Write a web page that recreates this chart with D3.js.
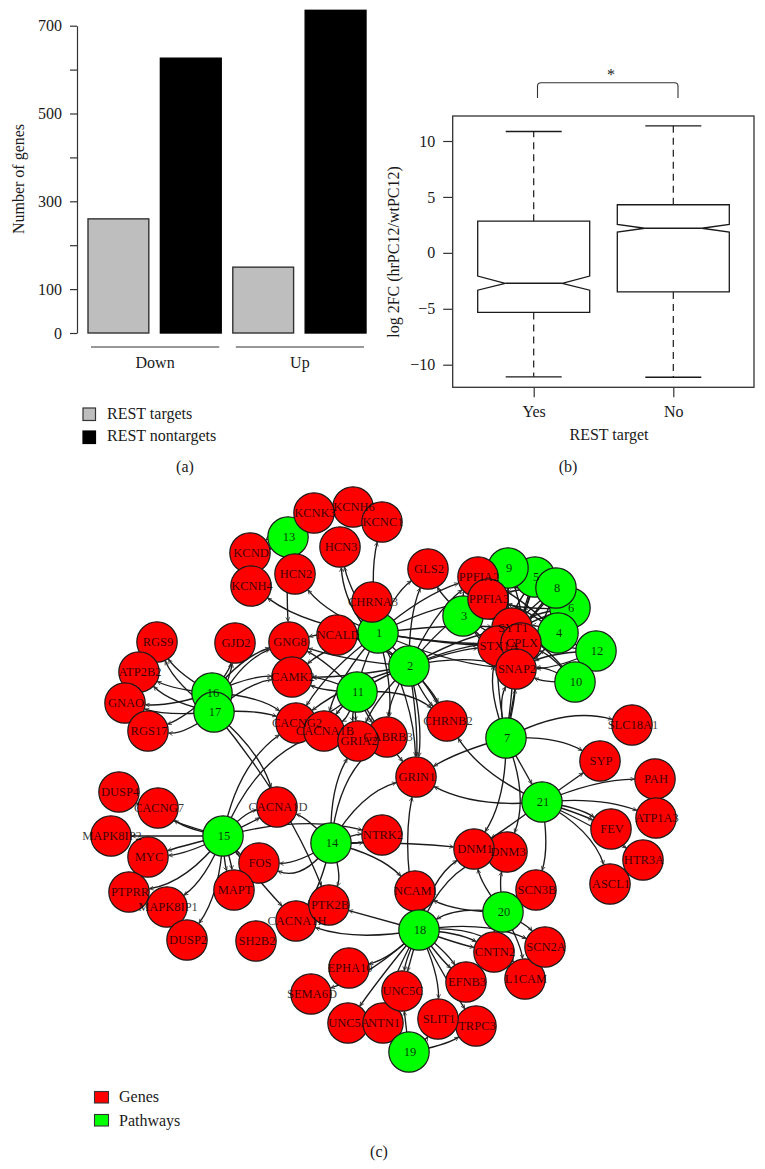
<!DOCTYPE html>
<html>
<head>
<meta charset="utf-8">
<style>
  body { margin: 0; background: #fff; }
  svg { display: block; }
  text { font-family: "Liberation Serif", serif; fill: #1a1a1a; }
</style>
</head>
<body>
<svg width="765" height="1169"></svg>
<script src="https://d3js.org/d3.v7.min.js"></script>
<script>
// panel (a)
var barCats = ["Down targets", "Down nontargets", "Up targets", "Up nontargets"];
var barVals = [260, 626, 150, 735];
var barFill = ["#bebebe", "#000", "#bebebe", "#000"];
var barTicks = [0, 100, 200, 300, 400, 500, 600, 700];
var barLabelled = [0, 100, 300, 500, 700];

// panel (b)
var boxCats = ["Yes", "No"];
var boxQ1 = [-5.33, -3.49];
var boxQ3 = [2.83, 4.3];
var boxMed = [-2.72, 2.2];
var boxNotchLo = [-3.34, 1.85];
var boxNotchHi = [-2.08, 2.54];
var boxWhiskLo = [-11.08, -11.12];
var boxWhiskHi = [10.85, 11.36];
var boxTicks = [-10, -5, 0, 5, 10];

// panel (c), draw order matters since the circles overlap
var nodeNames = ["13", "KCND", "KCNH4", "HCN2", "KCNH6", "KCNC1", "KCNK3", "HCN3", "1", "CHRNA3", "NCALD",
  "GNG8", "GJD2", "RGS9", "ATP2B2", "GNAO", "RGS17", "16", "17", "CAMK2", "11", "CACNG2", "CACNA1B", "GABRB3", "GRIA2",
  "2", "GLS2", "5", "6", "8", "9", "PPFIA2", "3", "PPFIA3", "4", "SYT1", "STX1A", "CPLX", "SNAP2", "12", "10",
  "CHRNB2", "7", "SLC18A1", "SYP", "GRIN1", "21", "PAH", "ATP1A3", "HTR3A", "FEV", "ASCL1",
  "DUSP4", "CACNG7", "MAPK8IP2", "MYC", "15", "CACNA1D", "14", "FOS", "MAPT", "PTPRR", "MAPK8IP1", "DUSP2",
  "CACNA1H", "PTK2B", "SH2B2", "NTRK2", "DNM3", "DNM1", "SCN3B", "NCAM1", "20", "18", "L1CAM", "SCN2A", "CNTN2", "EFNB3",
  "SEMA6D", "EPHA10", "UNC5A", "NTN1", "UNC5C", "TRPC3", "SLIT1", "19"];
var nodeX = [288, 250, 251, 295, 353, 382, 314, 340, 378, 372, 337,
  289, 235, 157, 139, 125, 148, 212, 214, 292, 357, 296, 324, 387, 358,
  409, 428, 535, 570, 556, 508, 478, 463, 488, 558, 512, 498, 521, 516, 596, 575,
  447, 506, 632, 600, 416, 542, 655, 656, 643, 611, 610,
  119, 158, 111, 148, 223, 277, 331, 259, 234, 129, 167, 187,
  296, 329, 256, 382, 507, 474, 536, 415, 503, 419, 525, 545, 494, 466,
  311, 349, 348, 383, 402, 476, 438, 409];
var nodeY = [537, 553, 586, 574, 507, 522, 513, 547, 633, 602, 635,
  642, 643, 642, 672, 703, 731, 693, 712, 677, 692, 723, 731, 737, 741,
  666, 569, 577, 608, 588, 568, 577, 616, 599, 633, 628, 646, 643, 669, 651, 682,
  721, 738, 725, 761, 777, 802, 779, 818, 860, 829, 884,
  792, 808, 836, 857, 836, 807, 843, 863, 890, 892, 907, 940,
  921, 905, 941, 835, 852, 849, 890, 891, 912, 930, 979, 947, 952, 982,
  994, 968, 1023, 1023, 991, 1026, 1019, 1052];

// pathway -> gene, third value is how far the curve bows
var edges = [
  ["13", "KCND", .15], ["13", "KCNH4", .2], ["13", "KCNK3", 0], ["13", "HCN2", 0], ["13", "GNG8", .02],
  ["1", "KCNC1", -.1], ["1", "HCN3", -.1], ["2", "HCN3", -.25], ["1", "HCN2", -.14], ["1", "KCNH4", -.14],
  ["1", "CHRNA3", 0], ["1", "NCALD", 0], ["1", "GNG8", .08], ["1", "GLS2", -.15],
  ["1", "PPFIA2", -.1], ["1", "PPFIA3", -.08], ["1", "SYT1", -.05], ["1", "STX1A", .03], ["1", "CPLX", .05], ["1", "SNAP2", .08],
  ["1", "CAMK2", .12], ["1", "CACNG2", .1], ["1", "CACNA1B", .12], ["1", "GRIA2", .15], ["1", "GABRB3", -.1], ["1", "GRIN1", -.12], ["1", "CHRNB2", -.08],
  ["2", "GLS2", -.1], ["2", "PPFIA2", -.12], ["2", "PPFIA3", -.1], ["2", "SYT1", -.08], ["2", "STX1A", -.06], ["2", "CPLX", -.1], ["2", "SNAP2", -.12],
  ["2", "NCALD", .1], ["2", "GNG8", -.06], ["2", "CAMK2", -.05], ["2", "CACNG2", .1], ["2", "CACNA1B", .15], ["2", "GRIA2", .1], ["2", "GABRB3", .12],
  ["2", "GRIN1", -.1], ["2", "GRIN1", -.05], ["2", "CHRNB2", .08], ["2", "CHRNB2", -.08],
  ["3", "GLS2", -.08], ["3", "PPFIA2", -.2], ["3", "PPFIA3", .2], ["3", "SYT1", -.1], ["3", "STX1A", .1], ["3", "CPLX", .08], ["3", "SNAP2", .1],
  ["11", "GNG8", .08], ["11", "CAMK2", .1], ["11", "CAMK2", -.1], ["11", "CACNG2", -.12], ["11", "CACNA1B", -.2], ["11", "GRIA2", .12], ["11", "GABRB3", .1], ["11", "GRIN1", .05], ["11", "CHRNB2", -.2],
  ["4", "PPFIA2", .08], ["4", "PPFIA3", .1], ["4", "SYT1", .12], ["4", "STX1A", .08], ["4", "CPLX", .1], ["4", "SNAP2", -.1],
  ["5", "PPFIA2", .1], ["5", "PPFIA3", .15], ["5", "SYT1", -.1], ["5", "STX1A", .05], ["5", "CPLX", .08], ["5", "SNAP2", .05],
  ["6", "PPFIA3", -.08], ["6", "SYT1", .1], ["6", "STX1A", .1], ["6", "CPLX", -.1], ["6", "SNAP2", .1],
  ["8", "PPFIA3", .08], ["8", "PPFIA2", -.1], ["8", "SYT1", -.1], ["8", "CPLX", .1], ["8", "STX1A", .06], ["8", "SNAP2", -.06],
  ["9", "PPFIA3", .12], ["9", "SYT1", .15], ["9", "STX1A", -.08], ["9", "CPLX", -.1], ["9", "SNAP2", .05],
  ["10", "CPLX", .12], ["10", "SNAP2", .15], ["10", "SNAP2", -.12], ["10", "SYT1", .1],
  ["12", "CPLX", .12], ["12", "SNAP2", .1], ["12", "SNAP2", -.1], ["12", "SYT1", -.08],
  ["16", "RGS9", -.12], ["16", "ATP2B2", -.1], ["16", "GNAO", -.1], ["16", "RGS17", -.1], ["16", "GJD2", .12], ["16", "GNG8", -.15], ["16", "CAMK2", -.12],
  ["17", "RGS9", -.14], ["17", "ATP2B2", -.15], ["17", "GNAO", -.1], ["17", "RGS17", -.2], ["17", "GJD2", .08], ["17", "GNG8", -.2], ["17", "CAMK2", -.15], ["17", "CACNG2", -.1], ["17", "CACNA1D", -.15], ["16", "CACNG2", -.15], ["17", "PTK2B", -.08],
  ["7", "STX1A", -.05], ["7", "STX1A", -.15], ["7", "SNAP2", -.2], ["7", "SNAP2", .05], ["7", "CPLX", .02], ["7", "SYT1", .05],
  ["7", "SLC18A1", -.2], ["7", "SYP", -.15], ["7", "GRIN1", .07], ["7", "DNM1", -.15], ["7", "DNM3", -.2], ["7", "21", 0],
  ["21", "CHRNB2", -.15], ["21", "GRIN1", -.15], ["21", "SYP", 0], ["21", "PAH", -.1], ["21", "ATP1A3", -.12], ["21", "FEV", -.12], ["21", "FEV", -.04], ["21", "HTR3A", -.05], ["21", "ASCL1", -.2], ["21", "SCN3B", -.12], ["21", "DNM1", -.02],
  ["15", "DUSP4", -.08], ["15", "CACNG7", -.12], ["15", "MAPK8IP2", 0], ["15", "MYC", .02], ["15", "MYC", -.1], ["15", "PTPRR", -.2], ["15", "MAPK8IP1", -.15], ["15", "DUSP2", -.15], ["15", "MAPT", .08], ["15", "MAPT", -.05],
  ["15", "FOS", .1], ["15", "CACNA1D", -.18], ["15", "CACNA1D", .03], ["15", "CACNG2", -.2], ["15", "CACNA1B", -.2], ["15", "CACNA1H", .02], ["15", "NTRK2", -.13],
  ["14", "CACNA1D", .12], ["14", "FOS", -.15], ["14", "FOS", -.4], ["14", "PTK2B", -.2], ["14", "CACNA1H", -.1], ["14", "NTRK2", .1], ["14", "NTRK2", -.1], ["14", "NCAM1", -.15],
  ["14", "GRIN1", -.2], ["14", "GRIA2", -.15], ["14", "GABRB3", -.2], ["14", "DNM1", -.03],
  ["18", "NCAM1", .05], ["18", "PTK2B", 0], ["18", "CACNA1H", -.13], ["18", "EPHA10", -.15], ["18", "SEMA6D", -.12], ["18", "UNC5C", 0], ["18", "UNC5C", .08], ["18", "UNC5A", .02], ["18", "NTN1", .08],
  ["18", "SLIT1", -.12], ["18", "TRPC3", .02], ["18", "EFNB3", .05], ["18", "EFNB3", -.08], ["18", "CNTN2", -.12], ["18", "CNTN2", .03], ["18", "L1CAM", -.3], ["18", "SCN2A", -.15], ["18", "DNM1", -.2], ["18", "DNM3", -.25], ["18", "GRIN1", -.11],
  ["20", "NCAM1", -.12], ["20", "DNM1", -.12], ["20", "DNM3", -.1], ["20", "SCN3B", 0], ["20", "CNTN2", .1], ["20", "SCN2A", -.1], ["20", "L1CAM", -.1], ["20", "18", .18],
  ["19", "NTN1", 0], ["19", "UNC5C", 0], ["19", "SLIT1", .1], ["19", "TRPC3", .1]
];

var svg = d3.select("svg");
var ink = "#1a1a1a";

function label(x, y, txt, size, anchor) {
  return svg.append("text").attr("x", x).attr("y", y)
      .attr("font-size", size).attr("text-anchor", anchor || "middle").text(txt);
}

// ---- (a) bars
var xBar = d3.scaleBand().domain(barCats).range([88, 366]).paddingInner(0.16);
var yBar = d3.scaleLinear().domain([0, 700]).range([333, 25.7]);

svg.append("g").attr("transform", "translate(77,0)")
    .call(d3.axisLeft(yBar).tickValues(barTicks).tickSize(7).tickSizeOuter(0).tickPadding(8)
      .tickFormat(function(d) { return barLabelled.indexOf(d) >= 0 ? d : ""; }))
    .call(styleAxis);

svg.selectAll("rect.bar")
    .data(barCats)
  .enter().append("rect")
    .attr("class", "bar")
    .attr("x", function(d) { return xBar(d); })
    .attr("width", xBar.bandwidth())
    .attr("y", function(d, i) { return yBar(barVals[i]); })
    .attr("height", function(d, i) { return yBar(0) - yBar(barVals[i]); })
    .attr("fill", function(d, i) { return barFill[i]; })
    .attr("stroke", function(d, i) { return barFill[i] == "#000" ? "#000" : "#333"; })
    .attr("stroke-width", 1.4);

var barGroups = [["Down", barCats[0], barCats[1]], ["Up", barCats[2], barCats[3]]];
barGroups.forEach(function(g) {
  var x0 = xBar(g[1]) + 3, x1 = xBar(g[2]) + xBar.bandwidth() - 2;
  svg.append("line").attr("x1", x0).attr("x2", x1).attr("y1", 347).attr("y2", 347).attr("stroke", "#333").attr("stroke-width", 1.1);
  label((x0 + x1) / 2, 368, g[0], 16);
});

svg.append("text").attr("transform", "translate(24,179) rotate(-90)")
    .attr("font-size", 16).attr("text-anchor", "middle").text("Number of genes");

var barLegend = [["REST targets", "#bebebe", 408, 419], ["REST nontargets", "#000", 431, 441]];
barLegend.forEach(function(d) {
  svg.append("rect").attr("x", 83).attr("y", d[2]).attr("width", 12.5).attr("height", 12.5)
      .attr("fill", d[1]).attr("stroke", d[1] == "#000" ? "#000" : "#333").attr("stroke-width", 1.2);
  label(107, d[3], d[0], 16, "start");
});
label(185, 472, "(a)", 16);

// ---- (b) notched boxplot
var xBox = d3.scalePoint().domain(boxCats).range([533.7, 673.3]);
var yBox = d3.scaleLinear().domain([-10, 10]).range([364.7, 141]);
var boxLine = d3.line();
var halfW = 56, notchIn = 28.5, capW = 28;

svg.append("g").attr("transform", "translate(452.7,0)")
    .call(d3.axisLeft(yBox).tickValues(boxTicks).tickSize(9.5).tickSizeOuter(0).tickPadding(8))
    .call(styleAxis)
    .select(".domain").remove();
svg.append("g").attr("transform", "translate(0,387.3)")
    .call(d3.axisBottom(xBox).tickSize(10).tickSizeOuter(0).tickPadding(8))
    .call(styleAxis)
    .select(".domain").remove();

svg.append("rect").attr("x", 452.7).attr("y", 116).attr("width", 301.3).attr("height", 271.3)
    .attr("fill", "none").attr("stroke", "#333").attr("stroke-width", 1.3);

boxCats.forEach(function(c, i) {
  var cx = xBox(c);
  // dashed whiskers and caps
  [[boxQ3[i], boxWhiskHi[i]], [boxQ1[i], boxWhiskLo[i]]].forEach(function(w) {
    svg.append("line").attr("x1", cx).attr("x2", cx).attr("y1", yBox(w[0])).attr("y2", yBox(w[1]))
        .attr("stroke", ink).attr("stroke-width", 1.2).attr("stroke-dasharray", "7,5");
    svg.append("line").attr("x1", cx - capW).attr("x2", cx + capW).attr("y1", yBox(w[1])).attr("y2", yBox(w[1]))
        .attr("stroke", ink).attr("stroke-width", 1.3);
  });
  var pts = [
    [cx - halfW, yBox(boxQ1[i])], [cx + halfW, yBox(boxQ1[i])], [cx + halfW, yBox(boxNotchLo[i])],
    [cx + notchIn, yBox(boxMed[i])], [cx + halfW, yBox(boxNotchHi[i])], [cx + halfW, yBox(boxQ3[i])],
    [cx - halfW, yBox(boxQ3[i])], [cx - halfW, yBox(boxNotchHi[i])], [cx - notchIn, yBox(boxMed[i])],
    [cx - halfW, yBox(boxNotchLo[i])]
  ];
  svg.append("path").attr("d", boxLine(pts) + "Z").attr("fill", "#fff").attr("stroke", ink).attr("stroke-width", 1.3);
  svg.append("line").attr("x1", cx - notchIn).attr("x2", cx + notchIn).attr("y1", yBox(boxMed[i])).attr("y2", yBox(boxMed[i]))
      .attr("stroke", ink).attr("stroke-width", 1.7);
});

svg.append("text").attr("transform", "translate(399,252) rotate(-90)")
    .attr("font-size", 16).attr("text-anchor", "middle").text("log 2FC (hrPC12/wtPC12)");
label(609, 440, "REST target", 16);
label(568, 472, "(b)", 16);

// significance bracket
svg.append("path")
    .attr("d", "M537.5,98V86Q537.5,82.7 541,82.7H674.5Q678,82.7 678,86V98")
    .attr("fill", "none").attr("stroke", "#333").attr("stroke-width", 1.1);
label(611, 80, "*", 16);

// ---- (c) network
var xNet = d3.scaleIdentity();
var yNet = d3.scaleIdentity();
var nodeR = 20.2;

svg.append("defs").append("marker")
    .attr("id", "arrow")
    .attr("viewBox", "-5 -2.5 6 5")
    .attr("refX", 0).attr("refY", 0)
    .attr("markerUnits", "userSpaceOnUse")
    .attr("markerWidth", 6).attr("markerHeight", 5)
    .attr("orient", "auto")
  .append("path").attr("d", "M-4,-1.9L0,0L-4,1.9").attr("fill", "none").attr("stroke", "#333").attr("stroke-width", 0.8);

function nodeAt(name) {
  var i = nodeNames.indexOf(name);
  return [xNet(nodeX[i]), yNet(nodeY[i])];
}

svg.append("g").selectAll("path")
    .data(edges)
  .enter().append("path")
    .attr("fill", "none")
    .attr("stroke", ink)
    .attr("stroke-width", 1.35)
    .attr("marker-end", "url(#arrow)")
    .attr("d", function(e) {
      var a = nodeAt(e[0]), b = nodeAt(e[1]);
      var dx = b[0] - a[0], dy = b[1] - a[1];
      var cx = (a[0] + b[0]) / 2 - e[2] * dy, cy = (a[1] + b[1]) / 2 + e[2] * dx;
      // stop the curve on the rim of the target circle
      var tx = b[0] - cx, ty = b[1] - cy, tl = Math.sqrt(tx * tx + ty * ty);
      var p = d3.path();
      p.moveTo(a[0], a[1]);
      p.quadraticCurveTo(cx, cy, b[0] - tx / tl * (nodeR + 0.5), b[1] - ty / tl * (nodeR + 0.5));
      return p.toString();
    });

svg.append("g").selectAll("circle")
    .data(nodeNames)
  .enter().append("circle")
    .attr("cx", function(d, i) { return xNet(nodeX[i]); })
    .attr("cy", function(d, i) { return yNet(nodeY[i]); })
    .attr("r", nodeR)
    .attr("fill", function(d) { return /^\d+$/.test(d) ? "#00ff00" : "#ff0000"; })
    .attr("stroke", "#1a1a1a")
    .attr("stroke-width", 1.2);

// labels go over every circle, they overlap in the reference too
svg.append("g").selectAll("text")
    .data(nodeNames)
  .enter().append("text")
    .attr("x", function(d, i) { return xNet(nodeX[i]) + 1; })
    .attr("y", function(d, i) { return yNet(nodeY[i]); })
    .attr("text-anchor", "middle")
    .attr("dy", "0.33em")
    .attr("font-size", 12.5)
    .attr("fill-opacity", 0.78)
    .style("fill", "#000")
    .text(function(d) { return d; });

var netLegend = [["Genes", "#ff0000", 1091.5, 1102], ["Pathways", "#00ff00", 1114.5, 1126]];
netLegend.forEach(function(d) {
  svg.append("rect").attr("x", 94.5).attr("y", d[2]).attr("width", 14).attr("height", 11.5)
      .attr("fill", d[1]).attr("stroke", "#333").attr("stroke-width", 1.1);
  label(119, d[3], d[0], 16, "start");
});
label(379, 1157, "(c)", 16);

function styleAxis(g) {
  g.attr("font-family", null).attr("font-size", 16);
  g.selectAll("text").style("fill", "#1a1a1a");
  g.selectAll("line").attr("stroke", "#333").attr("stroke-width", 1.2);
  g.selectAll(".domain").attr("stroke", "#333").attr("stroke-width", 1.2);
}
</script>
</body>
</html>
